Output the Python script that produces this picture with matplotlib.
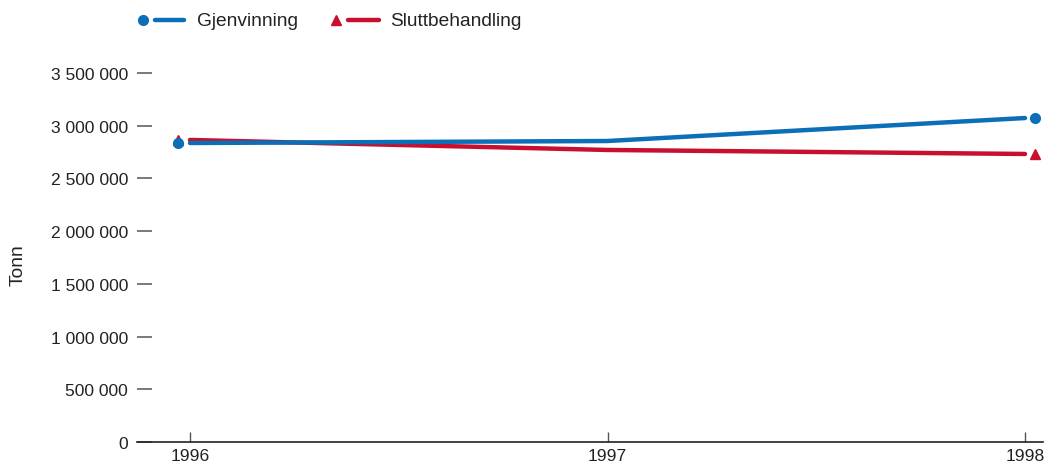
import matplotlib.pyplot as plt
import matplotlib.transforms as mtransforms
from matplotlib.lines import Line2D

plt.rcParams['font.family'] = ['Liberation Sans', 'DejaVu Sans']

years = [1996, 1997, 1998]
gjenvinning = [2836000, 2855000, 3073000]
sluttbehandling = [2865000, 2770000, 2732000]
yticks = [0, 500000, 1000000, 1500000, 2000000, 2500000, 3000000, 3500000]
ytick_labels = ['0', '500 000', '1 000 000', '1 500 000', '2 000 000',
                '2 500 000', '3 000 000', '3 500 000']

blue = '#0a6fb6'
red = '#c8102e'
W, H = 1046, 464

fig = plt.figure(figsize=(W / 100, H / 100), dpi=100)
ax = fig.add_axes([137 / W, 1 - 443 / H, (1043 - 137) / W, (443 - 40) / H])

ax.plot(years, sluttbehandling, color=red, lw=3.2, solid_capstyle='round', zorder=3)
ax.plot(years, gjenvinning, color=blue, lw=3.2, solid_capstyle='round', zorder=4)

# end markers, shifted outwards from the line ends
left = mtransforms.offset_copy(ax.transData, fig=fig, x=-12, y=0, units='dots')
right = mtransforms.offset_copy(ax.transData, fig=fig, x=10, y=0, units='dots')
ax.plot(years[0], gjenvinning[0], 'o', color=blue, ms=7, transform=left, zorder=5, clip_on=False)
ax.plot(years[0], sluttbehandling[0], '^', color=red, ms=6.5, transform=left, zorder=4, clip_on=False)
ax.plot(years[-1], gjenvinning[-1], 'o', color=blue, ms=7, transform=right, zorder=5, clip_on=False)
ax.plot(years[-1], sluttbehandling[-1], '^', color=red, ms=6.5, transform=right, zorder=5, clip_on=False)

ax.set_xlim(1996 - 53 / 417.5, 1998 + 18 / 417.5)
ax.set_ylim(0, 3500000 * (443 - 40) / 369)

ax.set_yticks(yticks)
ax.set_yticklabels(ytick_labels)
ax.set_xticks(years)
ax.set_xticklabels([str(y) for y in years])

ax.tick_params(axis='y', direction='in', length=11, width=1.1, color='#555555',
               pad=6.5, labelsize=12.6, labelcolor='#222222')
ax.tick_params(axis='x', direction='in', length=7, width=1, color='#555555',
               pad=4, labelsize=12.6, labelcolor='#222222')

for s in ['top', 'right', 'left']:
    ax.spines[s].set_visible(False)
ax.spines['bottom'].set_color('#222222')
ax.spines['bottom'].set_linewidth(1.2)

ax.set_ylabel('Tonn', fontsize=13.8, color='#222222')
ax.yaxis.set_label_coords((27 - 137) / (1043 - 137), (443 - 265) / (443 - 40))

# legend drawn by hand: marker, short line, label
ly = 1 - 21 / H
fig.add_artist(Line2D([143 / W], [ly], marker='o', color=blue, ms=7, ls='none'))
fig.add_artist(Line2D([155 / W, 184 / W], [ly, ly], color=blue, lw=3.2, solid_capstyle='round'))
fig.text(197 / W, ly, 'Gjenvinning', fontsize=13.8, va='center', color='#222222')
fig.add_artist(Line2D([336 / W], [ly], marker='^', color=red, ms=6.5, ls='none'))
fig.add_artist(Line2D([348 / W, 379 / W], [ly, ly], color=red, lw=3.2, solid_capstyle='round'))
fig.text(390 / W, ly, 'Sluttbehandling', fontsize=13.8, va='center', color='#222222')

fig.savefig('out.png', dpi=100)
